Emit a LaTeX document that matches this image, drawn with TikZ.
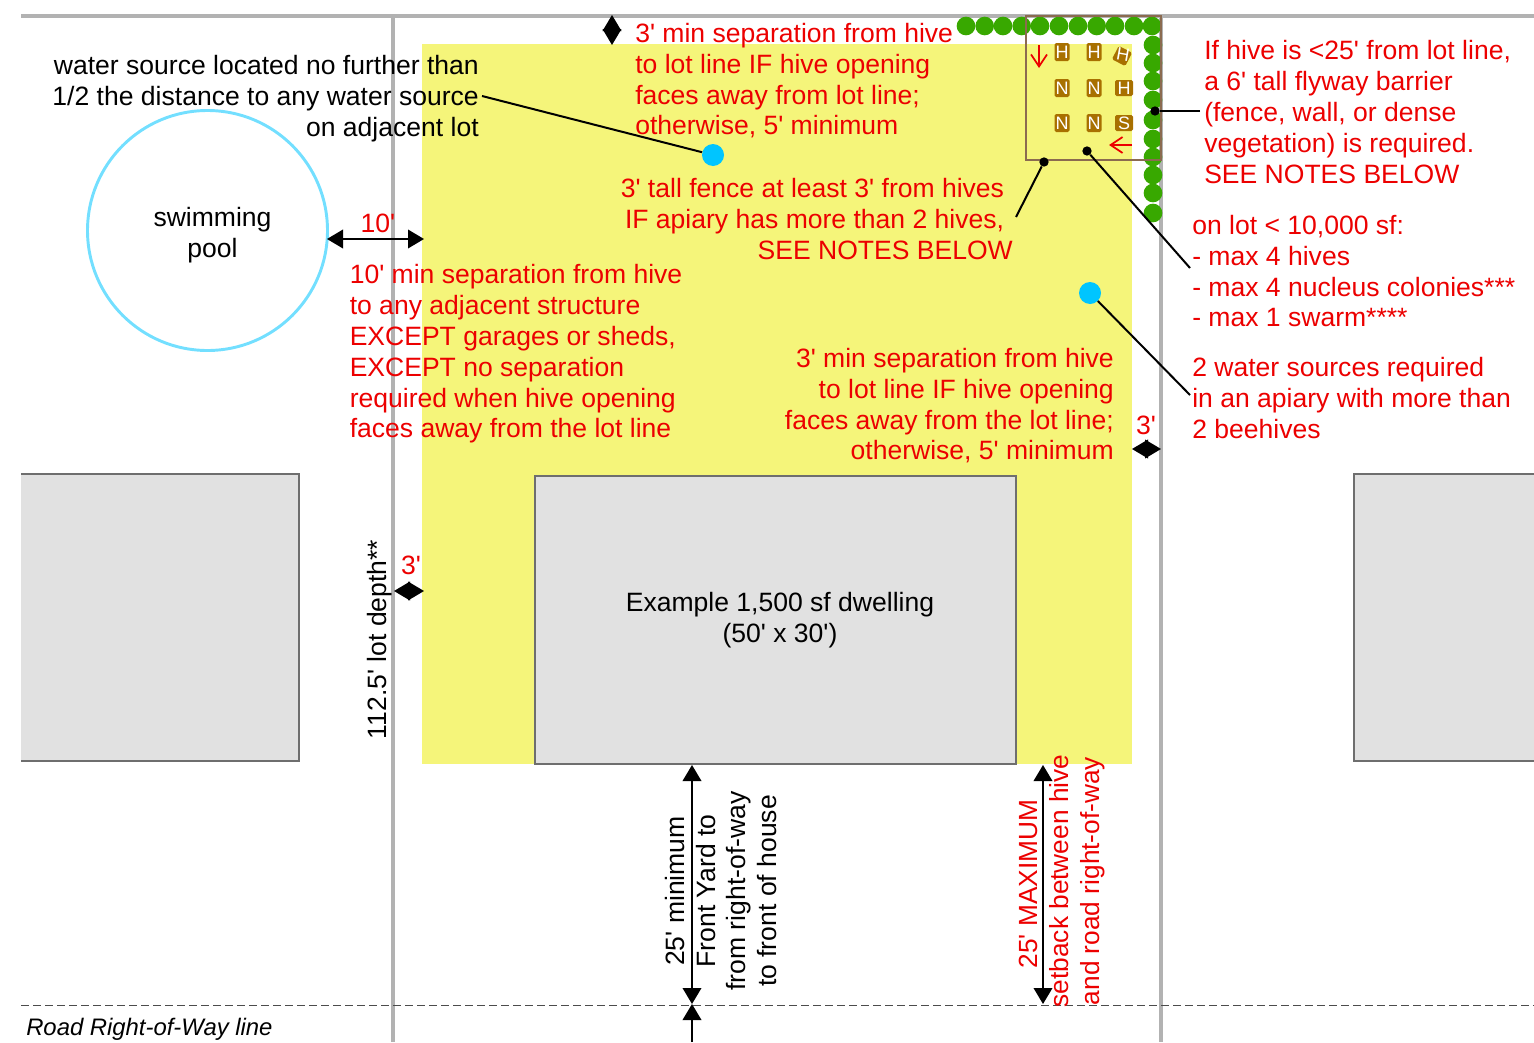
\documentclass[tikz,border=0pt]{standalone}
\usepackage{fontspec}
\setmainfont{Liberation Sans}[Ligatures=TeXOff]
\usetikzlibrary{arrows.meta}
\definecolor{lotgray}{HTML}{B2B2B2}
\definecolor{yard}{HTML}{F5F57A}
\definecolor{house}{HTML}{E1E1E1}
\definecolor{houseedge}{HTML}{6E6E6E}
\definecolor{hedge}{HTML}{38A800}
\definecolor{apiary}{HTML}{8B6B50}
\definecolor{hivefill}{HTML}{A87000}
\definecolor{poolc}{HTML}{73DFFF}
\definecolor{waterc}{HTML}{00C5FF}
\definecolor{redtxt}{HTML}{EC0000}
\tikzset{
 lab/.style={inner sep=0pt,font=\fontsize{19.9pt}{23.1pt}\selectfont},
 note/.style={lab,text=redtxt},
 lotline/.style={draw=lotgray,line width=3pt},
 bldg/.style={draw=houseedge,fill=house,line width=1.6pt},
 hivebox/.style={fill=hivefill,rounded corners=1.2pt,text=white,inner sep=0pt,minimum width=11.25pt,minimum height=13.5pt,font=\fontsize{13.5pt}{13.5pt}\selectfont},
 hivewide/.style={hivebox,minimum width=13.5pt,minimum height=12pt},
 shrub/.style={circle,fill=hedge,inner sep=0pt,minimum size=14pt},
 leader/.style={draw=black,line width=1.5pt},
 pin/.style={circle,fill=black,inner sep=0pt,minimum size=7pt},
 spot/.style={circle,fill=waterc,inner sep=0pt,minimum size=16.5pt},
 dimarrow/.style={draw=black,line width=1.1pt,{Triangle[length=12pt,width=14pt]}-{Triangle[length=12pt,width=14pt]}},
 tinyarrow/.style={draw=black,line width=1.1pt,{Triangle[length=12pt,width=14pt]}-{Triangle[length=12pt,width=14pt]}},
 oneend/.style={draw=black,line width=1.1pt,-{Triangle[length=12pt,width=14pt]}},
 redarrow/.style={draw=redtxt,line width=1.3pt,-{Straight Barb[length=9pt,width=12pt]}},
}
\begin{document}
\begin{tikzpicture}[x=0.75pt,y=-0.75pt]
\useasboundingbox (0,0) rectangle (1534,1042);
% yard
\fill[yard] (422,44) rectangle (1132,764);
% lot lines
\draw[lotline] (21,15.5) -- (1534,15.5);
\draw[lotline] (393,15) -- (393,1042);
\draw[lotline,line width=2.4pt] (1161,15) -- (1161,1042);
\draw[black!70,line width=0.6pt,dash pattern=on 6pt off 3pt] (21,1005) -- (1534,1005);
% houses
\fill[house] (21,474) rectangle (299,761);
\draw[bldg] (21,474) -- (299,474) -- (299,761) -- (21,761);
\fill[house] (1534,474) rectangle (1354,761);
\draw[bldg] (1534,474) -- (1354,474) -- (1354,761) -- (1534,761);
\node[bldg,outer sep=0pt,minimum width=360.75pt,minimum height=216pt,inner sep=0pt,anchor=north west] (dwelling) at (535,476) {};
\node[lab,align=center] (dwelllabel) at (780,620) {Example 1,500 sf dwelling\\(50' x 30')};
% pool
\node[circle,draw=poolc,line width=2.2pt,outer sep=0pt,minimum size=180pt,inner sep=0pt] (pool) at (207.5,230.5) {};
\node[lab,align=center] (poollabel) at (212.5,235) {swimming\\pool};
% hedge
\foreach \i/\x in {1/966,2/984.7,3/1003,4/1021.7,5/1040,6/1059,7/1078,8/1096.7,9/1115,10/1134,11/1152}
  \node[shrub] (t\i) at (\x,26) {};
\foreach \i/\y in {1/45,2/63,3/81,4/100,5/120,6/139,7/157,8/175,9/193,10/213}
  \node[shrub] (r\i) at (1153,\y) {};
% apiary
\node[draw=apiary,line width=2.1pt,outer sep=0pt,minimum width=101.25pt,minimum height=108pt,inner sep=0pt,anchor=north west] (apiarybox) at (1026,16) {};
\node[hivebox] (h1) at (1062,52) {H};
\node[hivebox] (h2) at (1094,52) {H};
\node[hivebox,minimum height=11.25pt,rotate=-27] (h3) at (1122,56) {};
\node[inner sep=0pt,text=white,font=\fontsize{13.5pt}{13.5pt}\selectfont,rotate=-10] (h3t) at (1123,55) {H};
\node[hivebox] (n1) at (1062,88) {N};
\node[hivebox] (n2) at (1094,88) {N};
\node[hivewide] (h4) at (1124,88) {H};
\node[hivebox] (n3) at (1062,123) {N};
\node[hivebox] (n4) at (1094,123) {N};
\node[hivewide] (s1) at (1124,123) {S};
\coordinate (da) at (1039,45); \coordinate (db) at (1039,68);
\draw[redarrow] (da) -- (db);
\coordinate (la) at (1132,145); \coordinate (lb) at (1109,145);
\draw[redarrow] (la) -- (lb);
% water
\node[spot] (w1) at (713,155) {};
\node[spot] (w2) at (1090,293) {};
% pins
\node[pin] (p1) at (1044,162) {};
\node[pin] (p2) at (1087,151) {};
\node[pin] (p3) at (1155,111) {};
% free ends
\coordinate (e1) at (482,96);
\coordinate (e2) at (1016,217);
\coordinate (e3) at (1190,268);
\coordinate (e4) at (1200,111);
\coordinate (e5) at (1190,395);
\draw[leader] (e1) -- (w1);
\draw[leader] (e2) -- (p1);
\draw[leader] (e3) -- (p2);
\draw[leader] (e4) -- (p3);
\draw[leader] (e5) -- (w2);
% dimension arrows
\coordinate (a1) at (612,15); \coordinate (a2) at (612,45);
\draw[tinyarrow] (a1) -- (a2);
\coordinate (b1) at (327,239); \coordinate (b2) at (424,239);
\draw[dimarrow] (b1) -- (b2);
\coordinate (c1) at (1132,449); \coordinate (c2) at (1161,449);
\draw[tinyarrow] (c1) -- (c2);
\coordinate (d1) at (394,591); \coordinate (d2) at (424,591);
\draw[tinyarrow] (d1) -- (d2);
\coordinate (f1) at (692,765); \coordinate (f2) at (692,1004);
\draw[dimarrow] (f1) -- (f2);
\coordinate (f3) at (692,1042); \coordinate (f4) at (692,1004);
\draw[oneend] (f3) -- (f4);
\coordinate (g1) at (1043,765); \coordinate (g2) at (1043,1004);
\draw[dimarrow] (g1) -- (g2);
% black labels
\node[lab,align=right,anchor=north east] (waterlabel) at (479,55.5) {water source located no further than\\1/2 the distance to any water source\\on adjacent lot};
\node[lab,rotate=90] (depth) at (380,639.5) {112.5' lot depth**};
\node[lab,align=center,rotate=90] (frontyard) at (721,891) {25' minimum\\Front Yard to\\from right-of-way\\to front of house};
\node[lab,anchor=north west] (row) at (26,1018) {\fontsize{17.9pt}{20pt}\selectfont\itshape Road Right-of-Way line};
% red labels
\node[note,align=left,anchor=north west] (n3a) at (635,23) {3' min separation from hive\\to lot line IF hive opening\\faces away from lot line;\\otherwise, 5' minimum};
\node[note,align=right,anchor=north east] (nfence) at (1013,178) {3' tall fence at least 3' from hives\rule{6.5pt}{0pt}\\IF apiary has more than 2 hives,\rule{6.5pt}{0pt}\\SEE NOTES BELOW};
\node[note] (n10) at (378,223) {10'};
\node[note,align=left,anchor=north west] (n10b) at (349.5,264.5) {10' min separation from hive\\to any adjacent structure\\EXCEPT garages or sheds,\\EXCEPT no separation\\required when hive opening\\faces away from the lot line};
\node[note,align=right,anchor=north east] (n3b) at (1114,348) {3' min separation from hive\\to lot line IF hive opening\\faces away from the lot line;\\otherwise, 5' minimum};
\node[note] (r3) at (1146,425) {3'};
\node[note] (l3) at (411,565) {3'};
\node[note,align=left,anchor=north west] (nbar) at (1204,40.5) {If hive is <25' from lot line,\\a 6' tall flyway barrier\\(fence, wall, or dense\\vegetation) is required.\\SEE NOTES BELOW};
\node[note,align=left,anchor=north west] (nlot) at (1192,215) {on lot < 10,000 sf:\\- max 4 hives\\- max 4 nucleus colonies***\\- max 1 swarm****};
\node[note,align=left,anchor=north west] (nwater) at (1192,357) {2 water sources required\\in an apiary with more than\\2 beehives};
\node[note,align=center,rotate=90,font=\fontsize{19.7pt}{23.25pt}\selectfont] (nmax) at (1062,881) {25' MAXIMUM\rule{4.5pt}{0pt}\\setback between hive\\and road right-of-way};
\end{tikzpicture}
\end{document}
